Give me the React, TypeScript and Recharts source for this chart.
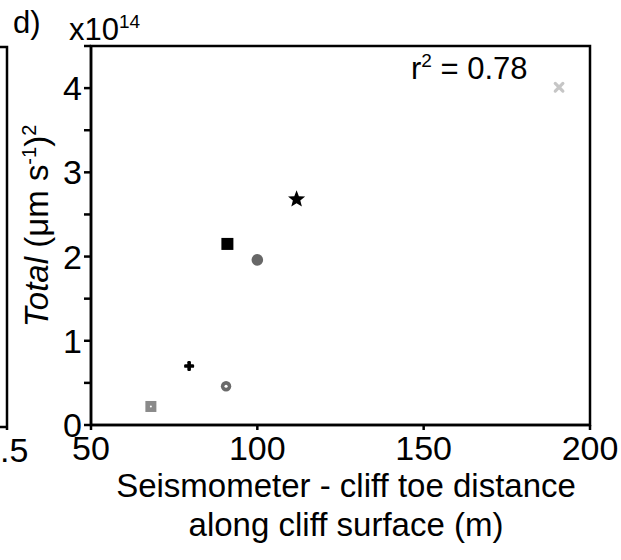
import React from 'react';
import { ScatterChart, Scatter, XAxis, YAxis, ReferenceArea } from 'recharts';

// Data (y in units of 10^14 (µm s^-1)^2)
const markers = ['greySquare', 'cross', 'ring', 'blackSquare', 'greyCircle', 'star', 'cross45'];
const distances = [68, 79.5, 90.6, 91, 100, 111.8, 190.7];
const totals = [0.22, 0.7, 0.46, 2.15, 1.96, 2.68, 4.01];

const xTicks = [50, 100, 150, 200];
const yTicks = [0, 0.5, 1, 1.5, 2, 2.5, 3, 3.5, 4, 4.5];
const yLabelled = [0, 1, 2, 3, 4];

const FONT = '"Liberation Sans", Arial, Helvetica, sans-serif';

const starPath = (cx: number, cy: number, ro: number, ri: number) => {
  const pts: string[] = [];
  for (let i = 0; i < 10; i++) {
    const r = i % 2 === 0 ? ro : ri;
    const a = -Math.PI / 2 + (i * Math.PI) / 5;
    pts.push(`${(cx + r * Math.cos(a)).toFixed(2)},${(cy + r * Math.sin(a)).toFixed(2)}`);
  }
  return 'M' + pts.join('L') + 'Z';
};

const makeShape = (kind: string) => (props: any) => {
  const { cx, cy } = props;
  if (cx == null || cy == null) return <g />;
  switch (kind) {
    case 'blackSquare':
      return <rect x={cx - 6} y={cy - 6} width={12} height={12} fill="#000" />;
    case 'greyCircle':
      return <circle cx={cx} cy={cy} r={5.8} fill="#676767" />;
    case 'star':
      return <path d={starPath(cx, cy, 9, 3.9)} fill="#000" />;
    case 'cross':
      return (
        <g fill="#000">
          <rect x={cx - 5} y={cy - 1.8} width={10} height={3.6} rx={1.2} />
          <rect x={cx - 1.8} y={cy - 5} width={3.6} height={10} rx={1.2} />
        </g>
      );
    case 'ring':
      return (
        <g>
          <circle cx={cx} cy={cy} r={5.2} fill="#6a6a6a" />
          <circle cx={cx} cy={cy} r={1.6} fill="#fff" />
        </g>
      );
    case 'greySquare':
      return (
        <g>
          <rect x={cx - 5.5} y={cy - 5.5} width={11} height={11} fill="#8a8a8a" />
          <circle cx={cx} cy={cy} r={1} fill="#fff" />
        </g>
      );
    case 'cross45':
      return (
        <g stroke="#c6c6c6" strokeWidth={3.2} strokeLinecap="round">
          <line x1={cx - 3.8} y1={cy - 3.8} x2={cx + 3.8} y2={cy + 3.8} />
          <line x1={cx - 3.8} y1={cy + 3.8} x2={cx + 3.8} y2={cy - 3.8} />
        </g>
      );
    default:
      return <circle cx={cx} cy={cy} r={4} fill="#000" />;
  }
};

const YTick = (props: any) => {
  const { x, y, payload } = props;
  if (!yLabelled.includes(payload.value)) return <g />;
  return (
    <text x={x} y={y} dy={12} textAnchor="end" fontSize={34} fontFamily={FONT} fill="#000">
      {payload.value}
    </text>
  );
};

const XTick = (props: any) => {
  const { x, y, payload } = props;
  return (
    <text x={x} y={y} dy={30} textAnchor="middle" fontSize={34} fontFamily={FONT} fill="#000">
      {payload.value}
    </text>
  );
};

export default function App() {
  return (
    <div style={{ position: 'absolute', left: 0, top: 0, width: 621, height: 560, background: '#fff' }}>
      <ScatterChart width={621} height={560} margin={{ top: 46, right: 31, bottom: 95, left: 31 }}>
        <XAxis
          type="number"
          dataKey="x"
          domain={[50, 200]}
          ticks={xTicks}
          interval={0}
          allowDataOverflow
          height={40}
          tick={<XTick />}
          tickSize={5}
          tickMargin={0}
          tickLine={{ stroke: '#000', strokeWidth: 2.5 }}
          axisLine={{ stroke: '#000', strokeWidth: 2.5 }}
        />
        <YAxis
          type="number"
          dataKey="y"
          domain={[0, 4.5]}
          ticks={yTicks}
          interval={0}
          allowDataOverflow
          width={60}
          tick={<YTick />}
          tickSize={7}
          tickMargin={2}
          tickLine={{ stroke: '#000', strokeWidth: 2.5 }}
          axisLine={{ stroke: '#000', strokeWidth: 2.5 }}
        />
        <ReferenceArea x1={50} x2={200} y1={0} y2={4.5} fill="none" stroke="#000" strokeWidth={2.5} />
        {markers.map((m, i) => (
          <Scatter
            key={m}
            name={m}
            data={[{ x: distances[i], y: totals[i] }]}
            shape={makeShape(m)}
            isAnimationActive={false}
          />
        ))}
      </ScatterChart>
      <svg
        width={621}
        height={560}
        style={{ position: 'absolute', left: 0, top: 0, pointerEvents: 'none' }}
        fontFamily={FONT}
      >
        {/* remnant of neighbouring panel */}
        <path d="M0,47 L7,47 L7,430 M0,427 L7,427" stroke="#000" strokeWidth={2.5} fill="none" />
        <text x={0} y={462} fontSize={34} fill="#000">.5</text>
        <text x={13} y={33} fontSize={31} fill="#000">d)</text>
        <text x={69} y={40} fontSize={31} fill="#000">
          x10<tspan dy={-12} fontSize={19}>14</tspan>
        </text>
        <text x={411} y={79} fontSize={31} fill="#000">
          r<tspan dy={-12} fontSize={19}>2</tspan>
          <tspan dy={12}> = 0.78</tspan>
        </text>
        <text transform="translate(48,226) rotate(-90)" textAnchor="middle" fontSize={33} fill="#000">
          <tspan fontStyle="italic">Total</tspan>
          <tspan> (μm s</tspan>
          <tspan dy={-12} fontSize={20}>-1</tspan>
          <tspan dy={12}>)</tspan>
          <tspan dy={-12} fontSize={20}>2</tspan>
        </text>
        <text x={346} y={497} textAnchor="middle" fontSize={33} fill="#000">
          Seismometer - cliff toe distance
        </text>
        <text x={346} y={536} textAnchor="middle" fontSize={33} fill="#000">
          along cliff surface (m)
        </text>
      </svg>
    </div>
  );
}
